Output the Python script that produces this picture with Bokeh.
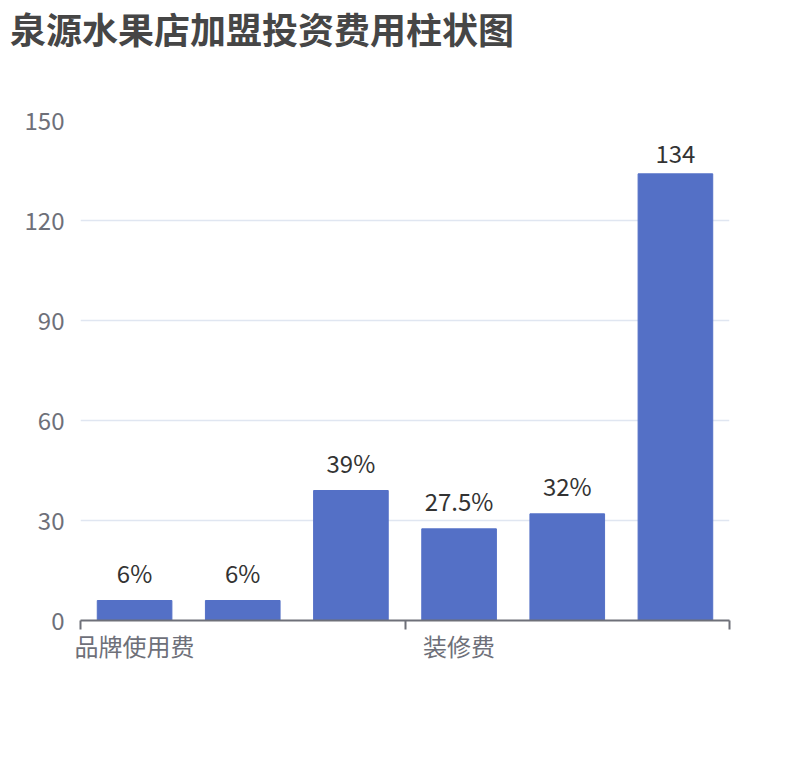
from bokeh.plotting import figure
from bokeh.models import FixedTicker, ColumnDataSource, Range1d, Div
from bokeh.layouts import column
from bokeh.core.properties import value
from bokeh.embed import file_html
from bokeh.resources import INLINE

# ---- data ----
title_text = "泉源水果店加盟投资费用柱状图"
categories = ["品牌使用费", "保证金", "设备费", "装修费", "房租", "合计"]
values = [6, 6, 39, 27.5, 32, 134]
bar_labels = ["6%", "6%", "39%", "27.5%", "32%", "134"]
y_ticks = [0, 30, 60, 90, 120, 150]
label_interval = 3

FONT = "Noto Sans CJK SC"

xs = [i + 0.5 for i in range(len(categories))]
src = ColumnDataSource(dict(x=xs, top=values, lab=bar_labels))

title_div = Div(text=title_text, width=800, height=56,
                styles={"font-family": FONT, "font-size": "36px", "font-weight": "bold",
                        "color": "#464646", "line-height": "56px", "padding-left": "10px",
                        "white-space": "nowrap", "margin": "0"})

p = figure(width=800, height=694, output_backend="svg", toolbar_location=None,
           x_range=Range1d(0, len(categories)), y_range=Range1d(0, 150),
           min_border_left=80, min_border_right=71, min_border_top=64,
           min_border_bottom=130)
p.outline_line_color = None
p.background_fill_color = "white"
p.border_fill_color = "white"

p.vbar(x="x", top="top", width=0.69, source=src, color="#5470c6")
p.text(x="x", y="top", text="lab", source=src, text_align="center",
       text_baseline="bottom", y_offset=-11, text_font=value(FONT),
       text_font_size="24px", text_color="#333333")

# y axis
ya = p.yaxis[0]
ya.ticker = FixedTicker(ticks=y_ticks)
ya.axis_line_color = None
ya.major_tick_line_color = None
ya.major_tick_out = 0
ya.major_tick_in = 0
ya.minor_tick_line_color = None
ya.major_label_standoff = 16
ya.major_label_text_font = FONT
ya.major_label_text_font_size = "24px"
ya.major_label_text_color = "#6e7079"

# x axis
xa = p.xaxis[0]
xa.ticker = FixedTicker(ticks=[xs[i] for i in range(0, len(categories), label_interval)],
                        minor_ticks=[i for i in range(0, len(categories) + 1, label_interval)])
xa.major_label_overrides = {xs[i]: categories[i] for i in range(0, len(categories), label_interval)}
xa.major_tick_line_color = None
xa.major_tick_out = 0
xa.major_tick_in = 0
xa.minor_tick_in = 0
xa.minor_tick_out = 9
xa.minor_tick_line_color = "#6e7079"
xa.minor_tick_line_width = 2
xa.axis_line_color = "#6e7079"
xa.axis_line_width = 2
xa.major_label_standoff = -2
xa.major_label_text_font = FONT
xa.major_label_text_font_size = "24px"
xa.major_label_text_color = "#6e7079"

p.xgrid.grid_line_color = None
p.ygrid.ticker = FixedTicker(ticks=y_ticks)
p.ygrid.grid_line_color = "#e0e6f1"
p.ygrid.grid_line_width = 1.5

layout = column(title_div, p, spacing=0)
open("out.html", "w").write(file_html(layout, INLINE))
